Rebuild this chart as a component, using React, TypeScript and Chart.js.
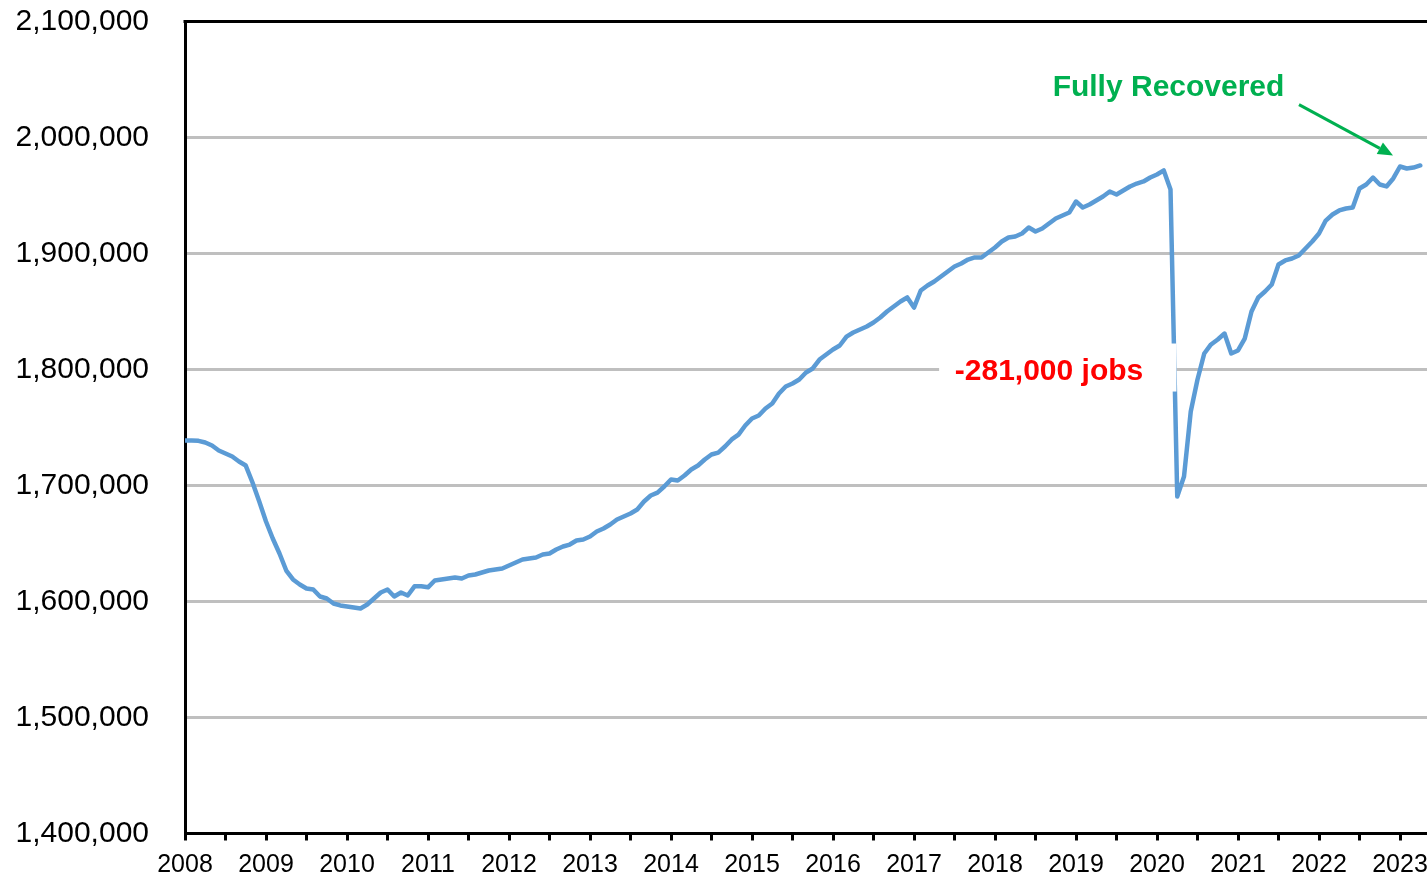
import React, { useEffect, useRef } from "react";
import { Chart, registerables } from "chart.js";

Chart.register(...registerables);

// Monthly employment, January 2008 through April 2023
const startYear = 2008;
const jobs2008 = [1738800, 1738800, 1738500, 1737100, 1734500, 1730200, 1727600, 1725000, 1720700, 1717200, 1702600, 1686200];
const jobs2009 = [1669000, 1654300, 1641400, 1626700, 1619000, 1614700, 1611200, 1610300, 1604300, 1602600, 1598300, 1596600];
const jobs2010 = [1595700, 1594800, 1594000, 1597400, 1602600, 1607800, 1610300, 1604300, 1607800, 1605200, 1613100, 1613100];
const jobs2011 = [1612200, 1618100, 1619000, 1619800, 1620700, 1619800, 1622400, 1623300, 1625000, 1626700, 1627600, 1628400];
const jobs2012 = [1631000, 1633600, 1636200, 1637100, 1637900, 1640500, 1641400, 1644800, 1647400, 1649100, 1652600, 1653400];
const jobs2013 = [1656000, 1660300, 1662900, 1666400, 1670700, 1673300, 1675900, 1679300, 1686200, 1691400, 1693900, 1699100];
const jobs2014 = [1705200, 1704300, 1708600, 1713800, 1717200, 1722400, 1726700, 1728400, 1733600, 1739700, 1743900, 1751700];
const jobs2015 = [1757800, 1760300, 1766400, 1770700, 1779300, 1785300, 1787900, 1791400, 1797400, 1800900, 1808600, 1812900];
const jobs2016 = [1817200, 1820700, 1828400, 1831900, 1834500, 1837100, 1840500, 1844800, 1850000, 1854300, 1858600, 1862100];
const jobs2017 = [1853400, 1868100, 1872400, 1875900, 1880200, 1884500, 1888800, 1891400, 1894800, 1896600, 1896600, 1900900];
const jobs2018 = [1905200, 1910300, 1913800, 1914700, 1917200, 1922400, 1919000, 1921600, 1925900, 1930200, 1932800, 1935300];
const jobs2019 = [1944800, 1939700, 1942200, 1945700, 1949100, 1953400, 1950900, 1954300, 1957800, 1960300, 1962100, 1965500];
const jobs2020 = [1968100, 1971600, 1955200, 1690500, 1707800, 1763800, 1791400, 1813800, 1821600, 1825900, 1831000, 1813800];
const jobs2021 = [1816400, 1826700, 1850000, 1862100, 1867200, 1873300, 1890500, 1894000, 1895700, 1898300, 1904300, 1910300];
const jobs2022 = [1917200, 1928400, 1933600, 1937100, 1938800, 1939700, 1956000, 1959500, 1965500, 1959500, 1957800, 1964700];
const jobs2023 = [1975000, 1973300, 1974100, 1975900];

const yearSeries = [
  jobs2008, jobs2009, jobs2010, jobs2011, jobs2012, jobs2013, jobs2014, jobs2015,
  jobs2016, jobs2017, jobs2018, jobs2019, jobs2020, jobs2021, jobs2022, jobs2023,
];

const xMin = 2008;
const xMax = 2024;
const yMin = 1400000;
const yMax = 2100000;
const yStep = 100000;

const lossText = "-281,000 jobs";
const recoveredText = "Fully Recovered";

const FONT = "Arial, 'Liberation Sans', Helvetica, sans-serif";

const annotationPlugin = {
  id: "customAnnotations",
  afterDatasetsDraw(chart: any) {
    const { ctx, chartArea } = chart;
    const xs = chart.scales.x;
    const ys = chart.scales.y;
    ctx.save();

    // top border of plot area
    ctx.strokeStyle = "#000";
    ctx.lineWidth = 3;
    ctx.beginPath();
    ctx.moveTo(chartArea.left - 1.5, chartArea.top);
    ctx.lineTo(chartArea.right, chartArea.top);
    ctx.stroke();

    // white label box for the loss annotation
    const bx1 = xs.getPixelForValue(2017.31);
    const bx2 = xs.getPixelForValue(2020.24);
    const by1 = ys.getPixelForValue(1822400);
    const by2 = ys.getPixelForValue(1781000);
    ctx.fillStyle = "#ffffff";
    ctx.fillRect(bx1, by1, bx2 - bx1, by2 - by1);

    ctx.fillStyle = "#ff0000";
    ctx.font = `bold 30px ${FONT}`;
    ctx.textAlign = "center";
    ctx.textBaseline = "middle";
    ctx.fillText(lossText, xs.getPixelForValue(2018.667), ys.getPixelForValue(1798300));

    // Fully recovered annotation
    ctx.fillStyle = "#00b050";
    ctx.fillText(recoveredText, xs.getPixelForValue(2020.142), ys.getPixelForValue(2042700));

    const ax1 = xs.getPixelForValue(2021.753);
    const ay1 = ys.getPixelForValue(2028400);
    const ax2 = xs.getPixelForValue(2022.914);
    const ay2 = ys.getPixelForValue(1984500);
    const ang = Math.atan2(ay2 - ay1, ax2 - ax1);
    const headLen = 15;
    const headHalf = 6.5;
    const bx = ax2 - headLen * Math.cos(ang);
    const byy = ay2 - headLen * Math.sin(ang);
    ctx.strokeStyle = "#00b050";
    ctx.lineWidth = 3;
    ctx.beginPath();
    ctx.moveTo(ax1, ay1);
    ctx.lineTo(bx, byy);
    ctx.stroke();
    ctx.beginPath();
    ctx.moveTo(ax2, ay2);
    ctx.lineTo(bx + headHalf * Math.sin(ang), byy - headHalf * Math.cos(ang));
    ctx.lineTo(bx - headHalf * Math.sin(ang), byy + headHalf * Math.cos(ang));
    ctx.closePath();
    ctx.fillStyle = "#00b050";
    ctx.fill();

    ctx.restore();
  },
};

export default function App() {
  const canvasRef = useRef<HTMLCanvasElement | null>(null);

  useEffect(() => {
    if (!canvasRef.current) return;
    const points: { x: number; y: number }[] = [];
    yearSeries.forEach((arr, yi) => {
      arr.forEach((v, m) => {
        points.push({ x: startYear + yi + m / 12, y: v });
      });
    });

    const chart = new Chart(canvasRef.current, {
      type: "line",
      data: {
        datasets: [
          {
            data: points,
            borderColor: "#5b9bd5",
            borderWidth: 4.5,
            pointRadius: 0,
            tension: 0,
            fill: false,
            borderJoinStyle: "round",
            borderCapStyle: "round",
          },
        ],
      },
      options: {
        animation: false,
        responsive: false,
        devicePixelRatio: 1,
        layout: { padding: { top: 21.5, right: 30, left: 0, bottom: 0 } },
        plugins: {
          legend: { display: false },
          tooltip: { enabled: false },
        },
        scales: {
          x: {
            type: "linear",
            min: xMin,
            max: xMax,
            afterFit: (s: any) => {
              s.height = 43.5;
              s.paddingLeft = 0;
              s.paddingRight = 0;
            },
            ticks: {
              stepSize: 0.5,
              autoSkip: false,
              maxRotation: 0,
              minRotation: 0,
              padding: 10,
              color: "#000",
              font: { family: FONT, size: 25 },
              callback: (v: any) => (Number.isInteger(Number(v)) ? String(v) : ""),
            },
            grid: {
              drawOnChartArea: false,
              drawTicks: true,
              tickLength: 7,
              tickWidth: 3,
              tickColor: "#000",
              color: "#000",
              lineWidth: 3,
            },
            border: { display: true, color: "#000", width: 3 },
          },
          y: {
            min: yMin,
            max: yMax,
            afterFit: (s: any) => {
              s.width = 185;
              s.paddingTop = 0;
              s.paddingBottom = 0;
            },
            ticks: {
              stepSize: yStep,
              padding: 36,
              color: "#000",
              font: { family: FONT, size: 30 },
              callback: (v: any) => Number(v).toLocaleString("en-US"),
            },
            grid: { color: "#bfbfbf", lineWidth: 3, drawTicks: false },
            border: { display: true, color: "#000", width: 3 },
          },
        },
      },
      plugins: [annotationPlugin],
    });
    return () => chart.destroy();
  }, []);

  return (
    <div
      style={{
        position: "fixed",
        left: 0,
        top: 0,
        width: 1427,
        height: 877,
        overflow: "hidden",
        background: "#fff",
      }}
    >
      <canvas ref={canvasRef} width={1511} height={877} style={{ display: "block" }} />
    </div>
  );
}
